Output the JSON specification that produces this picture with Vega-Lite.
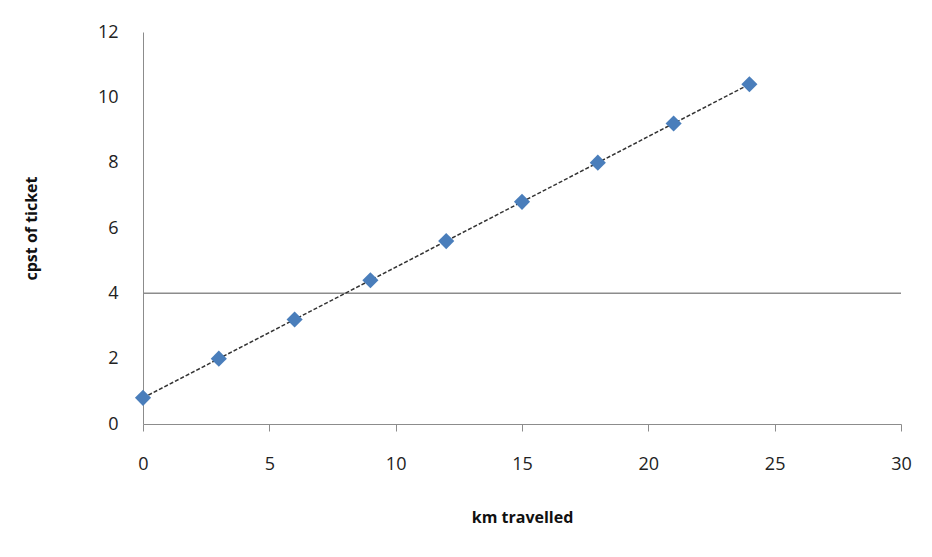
{
  "$schema": "https://vega.github.io/schema/vega-lite/v6.json",
  "autosize": "none",
  "width": 758,
  "height": 392,
  "padding": {"left": 143, "top": 32, "right": 31, "bottom": 133},
  "background": "white",
  "config": {
    "view": {"stroke": null},
    "font": "Open Sans"
  },
  "data": {
    "values": [
      {"km": 0, "cost": 0.8},
      {"km": 3, "cost": 2.0},
      {"km": 6, "cost": 3.2},
      {"km": 9, "cost": 4.4},
      {"km": 12, "cost": 5.6},
      {"km": 15, "cost": 6.8},
      {"km": 18, "cost": 8.0},
      {"km": 21, "cost": 9.2},
      {"km": 24, "cost": 10.4}
    ]
  },
  "encoding": {
    "x": {
      "field": "km", "type": "quantitative",
      "scale": {"domain": [0, 30], "nice": false},
      "axis": {
        "title": "km travelled", "values": [0, 5, 10, 15, 20, 25, 30],
        "grid": false, "domainColor": "#8c8c8c", "tickColor": "#8c8c8c", "tickSize": 7,
        "labelFlush": false, "labelFontSize": 18, "labelColor": "#222", "labelPadding": 24,
        "titleFontSize": 16, "titleFontWeight": "bold", "titleColor": "#111", "titlePadding": 36
      }
    },
    "y": {
      "field": "cost", "type": "quantitative",
      "scale": {"domain": [0, 12], "nice": false},
      "axis": {
        "title": "cpst of ticket", "values": [0, 2, 4, 6, 8, 10, 12],
        "grid": false, "ticks": false, "domainColor": "#8c8c8c",
        "labelFlush": false, "labelFontSize": 18, "labelColor": "#222", "labelPadding": 25,
        "titleFontSize": 16, "titleFontWeight": "bold", "titleColor": "#111", "titlePadding": 58
      }
    }
  },
  "layer": [
    {
      "data": {"values": [{"level": 4}]},
      "mark": {"type": "rule", "color": "#8c8c8c", "strokeWidth": 1.5},
      "encoding": {"y": {"field": "level", "type": "quantitative"}, "x": null}
    },
    {
      "mark": {"type": "line", "color": "#333", "strokeWidth": 1.5, "strokeDash": [4, 2]}
    },
    {
      "mark": {"type": "point", "shape": "diamond", "filled": true, "size": 260, "color": "#4a7ebb", "opacity": 1}
    }
  ]
}
